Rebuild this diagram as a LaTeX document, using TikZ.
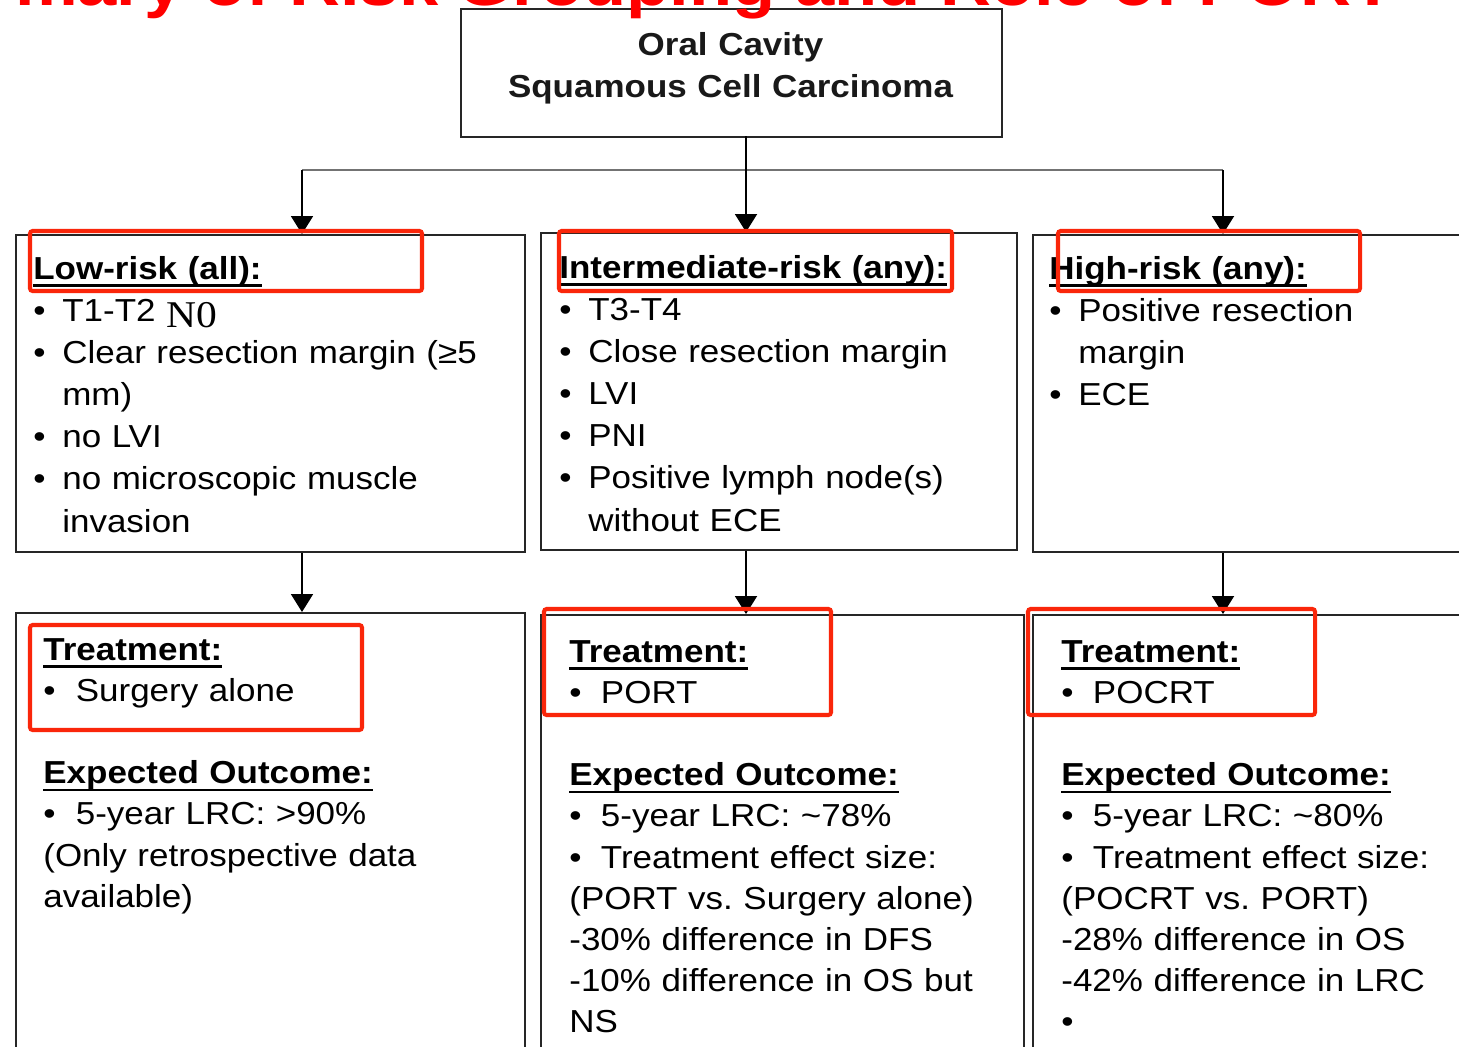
\documentclass[tikz,border=0pt]{standalone}
\usepackage{fontspec}
\setmainfont{Liberation Sans}[FakeStretch=1.1]
\newfontfamily\serifnum{Liberation Serif}[FakeStretch=1.1]
\usetikzlibrary{arrows.meta,calc}
\definecolor{hired}{RGB}{250,38,10}
\definecolor{titlered}{RGB}{255,0,0}
\definecolor{bodygray}{RGB}{62,62,62}
\frenchspacing
\newcommand{\bul}[1][16.5pt]{\makebox[#1][l]{\color{black}\textbullet}}
\newcommand{\ulhead}[1]{\leavevmode\setbox0=\hbox{\color{black}\bfseries #1}\rlap{\color{black}\rule[-4.3pt]{\wd0}{1.5pt}}\box0}

\begin{document}
\begin{tikzpicture}[
    x=0.02cm, y=-0.02cm,
    box/.style={draw=black!85, line width=1.1pt, anchor=north west, inner sep=0pt},
    txt/.style={anchor=base west, inner sep=0pt, text width=9.4cm, align=left, text=bodygray, font=\fontsize{18.1pt}{24pt}\selectfont},
    outtxt/.style={txt, font=\fontsize{18.1pt}{23.45pt}\selectfont},
    arrow/.style={-{Triangle[length=0.36cm, width=0.44cm]}, line width=1.1pt},
    bus/.style={line width=1.3pt, black!55},
    hilite/.style={draw=hired, line width=2.3pt, rounded corners=1.5pt}
]
\useasboundingbox (0,0) rectangle (1459,1046);
\fill[white] (0,0) rectangle (1459,1046);
\clip (0,0) rectangle (1459,1046);

% boxes
\node[box, minimum width=10.82cm, minimum height=2.56cm] (top) at (460,8) {};
\node[box, minimum width=10.18cm, minimum height=6.34cm] (lowbox) at (15,234) {};
\node[box, minimum width=9.52cm, minimum height=6.34cm] (midbox) at (540,232) {};
\node[box, minimum width=9.0cm, minimum height=6.34cm] (highbox) at (1032,234) {};
\node[box, minimum width=10.18cm, minimum height=9.4cm] (lowres) at (15,612) {};
\node[box, minimum width=9.66cm, minimum height=9.4cm] (midres) at (540,614) {};
\node[box, minimum width=9.0cm, minimum height=9.4cm] (highres) at (1032,614) {};

% title (cut off at the top)
\node[anchor=base east, inner sep=0pt, text=titlered, font=\fontsize{36.5pt}{40pt}\selectfont\bfseries] (title) at (1395,5) {mary of Risk Grouping and Role of PORT};

\node[anchor=base, inner sep=0pt, text width=10cm, align=center, text=black!90, font=\fontsize{18.1pt}{24pt}\selectfont\bfseries] (toptxt) at (730.5,55) {Oral Cavity\\Squamous Cell Carcinoma};

% connectors
\coordinate (tap) at (746,136);
\coordinate (busL) at (302,170);
\coordinate (busR) at (1223,170);
\draw[bus] (busL) -- (busR);
\draw[arrow] (tap) -- (tap |- midbox.north);
\foreach \c/\b in {busL/lowbox, busR/highbox}
  \draw[arrow] (\c) -- (\c |- \b.north);
\foreach \c/\a/\b in {busL/lowbox/lowres, tap/midbox/midres, busR/highbox/highres}
  \draw[arrow] (\c |- \a.south) -- (\c |- \b.north);

% risk groups
\node[txt] (lowtxt) at (33,279) {\ulhead{Low-risk (all):}\\
\bul T1-T2 {\color{black}\serifnum\fontsize{21.5pt}{24pt}\selectfont\raisebox{-3.4pt}{N0}}\\
\bul Clear resection margin (≥5\\
\hspace*{16.5pt}mm)\\
\bul no LVI\\
\bul no microscopic muscle\\
\hspace*{16.5pt}invasion};

\node[txt] (midtxt) at (559,278) {\ulhead{Intermediate-risk (any):}\\
\bul T3-T4\\
\bul Close resection margin\\
\bul LVI\\
\bul PNI\\
\bul Positive lymph node(s)\\
\hspace*{16.5pt}without ECE};

\node[txt] (hightxt) at (1049,279) {\ulhead{High-risk (any):}\\
\bul Positive resection\\
\hspace*{16.5pt}margin\\
\bul ECE};

% treatment and outcome
\node[outtxt] (lowout) at (43,660) {\ulhead{Treatment:}\\
\bul[18.5pt]Surgery alone\\
\mbox{}\\
\ulhead{Expected Outcome:}\\
\bul[18.5pt]5-year LRC: >90\%\\
(Only retrospective data\\
available)};

\node[outtxt] (midout) at (569,662) {\ulhead{Treatment:}\\
\bul[18pt]PORT\\
\mbox{}\\
\ulhead{Expected Outcome:}\\
\bul[18pt]5-year LRC: \textasciitilde78\%\\
\bul[18pt]Treatment effect size:\\
(PORT vs. Surgery alone)\\
-30\% difference in DFS\\
-10\% difference in OS but\\
NS};

\node[outtxt] (highout) at (1061,662) {\ulhead{Treatment:}\\
\bul[18pt]POCRT\\
\mbox{}\\
\ulhead{Expected Outcome:}\\
\bul[18pt]5-year LRC: \textasciitilde80\%\\
\bul[18pt]Treatment effect size:\\
(POCRT vs. PORT)\\
-28\% difference in OS\\
-42\% difference in LRC\\
\bul};

% red highlights
\foreach \xa/\ya/\xb/\yb in {30/231/422/291, 559/231/952/291, 1058/231/1360/291,
                             30/625/362/730, 544/609/831/715, 1028/609/1315/715}
  \draw[hilite] (\xa,\ya) rectangle (\xb,\yb);

\end{tikzpicture}
\end{document}
